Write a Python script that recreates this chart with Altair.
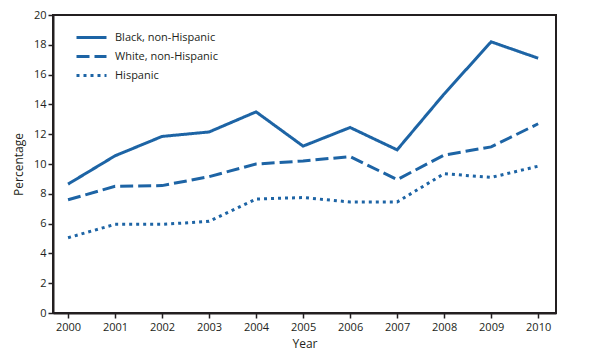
import altair as alt
import pandas as pd

years = [2000, 2001, 2002, 2003, 2004, 2005, 2006, 2007, 2008, 2009, 2010]
black = [8.65, 10.55, 11.85, 12.15, 13.5, 11.2, 12.45, 10.95, 14.7, 18.2, 17.1]
white = [7.6, 8.5, 8.55, 9.15, 10.0, 10.2, 10.5, 8.95, 10.6, 11.15, 12.7]
hispanic = [5.05, 5.95, 5.95, 6.15, 7.65, 7.75, 7.45, 7.45, 9.35, 9.1, 9.85]
series = ["Black, non-Hispanic", "White, non-Hispanic", "Hispanic"]
y_ticks = [0, 2, 4, 6, 8, 10, 12, 14, 16, 18, 20]

rows = []
for name, vals in zip(series, [black, white, hispanic]):
    for yr, v in zip(years, vals):
        rows.append({"Year": yr, "Percentage": v, "Group": name})
df = pd.DataFrame(rows)

FONT = "Open Sans"
DARK = "#231f20"
BLUE = "#1d64a5"

chart = alt.Chart(df).mark_line(strokeWidth=3, color=BLUE, strokeCap="butt").encode(
    x=alt.X("Year:Q",
            scale=alt.Scale(domain=[1999.68, 2010.38], nice=False, zero=False),
            axis=alt.Axis(values=years, format="d", title="Year", grid=False)),
    y=alt.Y("Percentage:Q",
            scale=alt.Scale(domain=[0, 20], nice=False),
            axis=alt.Axis(values=y_ticks, title="Percentage", grid=False)),
    strokeDash=alt.StrokeDash(
        "Group:N",
        scale=alt.Scale(domain=series, range=[[1, 0], [13, 5], [3, 4]]),
        sort=series,
        legend=alt.Legend(
            title=None, orient="none", legendX=32, legendY=16,
            symbolType="M-3,0H3", symbolSize=100, symbolStrokeWidth=3,
            symbolStrokeColor=BLUE, symbolFillColor="transparent",
            labelFont=FONT, labelFontSize=11,
            labelColor=DARK, labelOffset=17, rowPadding=6, padding=0,
        ),
    ),
    detail="Group:N",
).properties(
    width=503, height=298,
    autosize=alt.AutoSizeParams(type="none"),
    padding={"left": 45, "top": 7, "right": 30, "bottom": 43},
).configure_view(
    stroke=DARK, strokeWidth=2
).configure_axis(
    domainColor=DARK, domainWidth=2, tickColor=DARK, tickWidth=1.5, tickSize=5,
    labelFont=FONT, labelFontSize=11, labelColor=DARK, labelPadding=2,
    titleFont=FONT, titleFontSize=12, titleFontWeight="normal", titleColor=DARK,
).configure_axisX(
    titlePadding=6, labelPadding=3
).configure_axisY(
    titlePadding=8
)

chart.save("out.html", embed_options={"renderer": "svg", "actions": False})
